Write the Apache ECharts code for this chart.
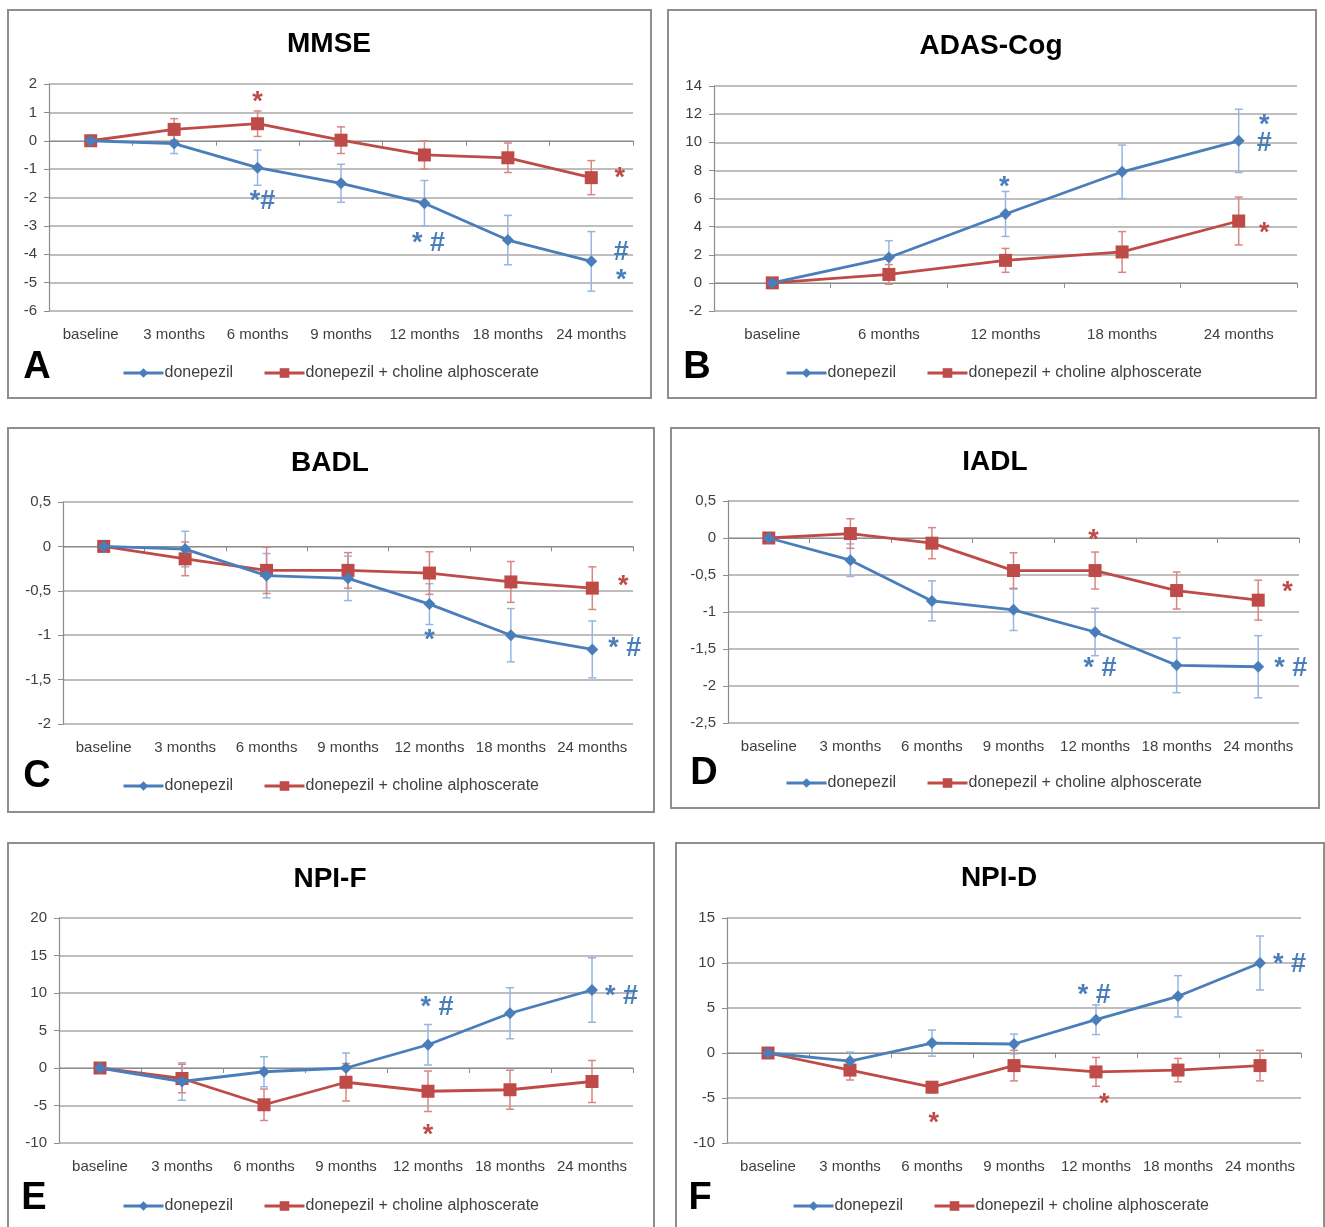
<!DOCTYPE html>
<html>
<head>
<meta charset="utf-8">
<script src="https://cdn.jsdelivr.net/npm/echarts@6/dist/echarts.min.js"></script>
<style>
html,body{margin:0;padding:0;background:#fff;}
#chart{width:1325px;height:1227px;}
</style>
</head>
<body>
<div id="chart"></div>
<script>
// ---------- DATA ----------
const cats7 = ['baseline', '3 months', '6 months', '9 months', '12 months', '18 months', '24 months'];
const cats5 = ['baseline', '6 months', '12 months', '18 months', '24 months'];
const seriesNames = ['donepezil', 'donepezil + choline alphoscerate'];

// A - MMSE
const mmseDon    = [0, -0.1, -0.95, -1.5, -2.2, -3.5, -4.25];
const mmseDonErr = [0, 0.35, 0.62, 0.67, 0.8, 0.87, 1.05];
const mmseCom    = [0, 0.4, 0.6, 0.02, -0.5, -0.6, -1.3];
const mmseComErr = [0, 0.38, 0.45, 0.47, 0.5, 0.52, 0.6];
const mmseNotes  = [[2, 1.55, '*', 'r'], [2.06, -2.05, '*#', 'b'], [4.05, -3.5, '* #', 'b'], [6.34, -1.13, '*', 'r'], [6.36, -3.85, '#', 'b'], [6.36, -4.73, '*', 'b']];

// B - ADAS-Cog
const adasDon    = [0, 1.8, 4.9, 7.9, 10.1];
const adasDonErr = [0, 1.2, 1.6, 1.9, 2.25];
const adasCom    = [0, 0.6, 1.6, 2.2, 4.4];
const adasComErr = [0, 0.7, 0.85, 1.45, 1.7];
const adasNotes  = [[1.99, 7.24, '*', 'b'], [4.22, 11.65, '*', 'b'], [4.22, 10.1, '#', 'b'], [4.22, 3.9, '*', 'r']];

// C - BADL
const badlDon    = [0, -0.03, -0.33, -0.36, -0.65, -1.0, -1.16];
const badlDonErr = [0, 0.2, 0.25, 0.25, 0.23, 0.3, 0.32];
const badlCom    = [0, -0.14, -0.27, -0.27, -0.3, -0.4, -0.47];
const badlComErr = [0, 0.19, 0.26, 0.2, 0.24, 0.23, 0.24];
const badlNotes  = [[6.38, -0.38, '*', 'r'], [4.0, -0.99, '*', 'b'], [6.4, -1.12, '* #', 'b']];

// D - IADL
const iadlDon    = [0, -0.3, -0.85, -0.97, -1.27, -1.72, -1.74];
const iadlDonErr = [0, 0.22, 0.27, 0.28, 0.32, 0.37, 0.42];
const iadlCom    = [0, 0.06, -0.07, -0.44, -0.44, -0.71, -0.84];
const iadlComErr = [0, 0.2, 0.21, 0.24, 0.25, 0.25, 0.27];
const iadlNotes  = [[3.98, 0.04, '*', 'r'], [6.36, -0.66, '*', 'r'], [4.06, -1.73, '* #', 'b'], [6.4, -1.73, '* #', 'b']];

// E - NPI-F
const npifDon    = [0, -1.8, -0.5, 0, 3.1, 7.3, 10.4];
const npifDonErr = [0, 2.5, 2.0, 2.0, 2.7, 3.4, 4.3];
const npifCom    = [0, -1.4, -4.9, -1.9, -3.1, -2.9, -1.8];
const npifComErr = [0, 1.9, 2.1, 2.5, 2.7, 2.6, 2.8];
const npifNotes  = [[1.94, -10.3, '*', 'r'], [4.0, -8.27, '*', 'r'], [4.11, 8.5, '* #', 'b'], [6.36, 9.87, '* #', 'b']];

// F - NPI-D
const npidDon    = [0, -0.9, 1.1, 1.0, 3.7, 6.3, 10.0];
const npidDonErr = [0, 1.0, 1.45, 1.1, 1.65, 2.3, 3.0];
const npidCom    = [0, -1.9, -3.8, -1.4, -2.1, -1.9, -1.4];
const npidComErr = [0, 1.1, 0.6, 1.7, 1.6, 1.3, 1.7];
const npidNotes  = [[2.02, -7.2, '*', 'r'], [4.1, -5.1, '*', 'r'], [3.98, 6.67, '* #', 'b'], [6.36, 10.2, '* #', 'b']];

// y-axis scales [min, max, interval]
const mmseY = [-6, 2, 1];
const adasY = [-2, 14, 2];
const badlY = [-2, 0.5, 0.5];
const iadlY = [-2.5, 0.5, 0.5];
const npifY = [-10, 20, 5];
const npidY = [-10, 15, 5];

// ---------- LAYOUT / STYLE ----------
const FONT = '"Liberation Sans", sans-serif';
const BLUE = '#4A7EBB', RED = '#BE4B48';
const BLUE_ERR = '#95B6E0', RED_ERR = '#D98684';
const GRIDC = '#A8A8A8', AXISC = '#8C8C8C', TXT = '#3F3F3F';

const panels = [
  {title: 'MMSE', letter: 'A', cats: cats7, don: mmseDon, donErr: mmseDonErr, com: mmseCom, comErr: mmseComErr, notes: mmseNotes, y: mmseY, comma: false,
   grid: {left: 49, top: 84, width: 584, height: 227}, box: [8, 10, 643, 388], titlePos: [329, 44], letterPos: [37, 366], legend: [122, 365]},
  {title: 'ADAS-Cog', letter: 'B', cats: cats5, don: adasDon, donErr: adasDonErr, com: adasCom, comErr: adasComErr, notes: adasNotes, y: adasY, comma: false,
   grid: {left: 714, top: 86, width: 583, height: 225}, box: [668, 10, 648, 388], titlePos: [991, 46], letterPos: [697, 366], legend: [785, 365]},
  {title: 'BADL', letter: 'C', cats: cats7, don: badlDon, donErr: badlDonErr, com: badlCom, comErr: badlComErr, notes: badlNotes, y: badlY, comma: true,
   grid: {left: 63, top: 502, width: 570, height: 222}, box: [8, 428, 646, 384], titlePos: [330, 463], letterPos: [37, 775], legend: [122, 778]},
  {title: 'IADL', letter: 'D', cats: cats7, don: iadlDon, donErr: iadlDonErr, com: iadlCom, comErr: iadlComErr, notes: iadlNotes, y: iadlY, comma: true,
   grid: {left: 728, top: 501, width: 571, height: 222}, box: [671, 428, 648, 380], titlePos: [995, 462], letterPos: [704, 772], legend: [785, 775]},
  {title: 'NPI-F', letter: 'E', cats: cats7, don: npifDon, donErr: npifDonErr, com: npifCom, comErr: npifComErr, notes: npifNotes, y: npifY, comma: false,
   grid: {left: 59, top: 918, width: 574, height: 225}, box: [8, 843, 646, 400], titlePos: [330, 879], letterPos: [34, 1197], legend: [122, 1198]},
  {title: 'NPI-D', letter: 'F', cats: cats7, don: npidDon, donErr: npidDonErr, com: npidCom, comErr: npidComErr, notes: npidNotes, y: npidY, comma: false,
   grid: {left: 727, top: 918, width: 574, height: 225}, box: [676, 843, 648, 400], titlePos: [999, 878], letterPos: [700, 1197], legend: [792, 1198]}
];

function errRender(params, api) {
  const x = api.value(0), m = api.value(1), e = api.value(2);
  if (!e) return null;
  const t = api.coord([x, m + e]);
  const b = api.coord([x, m - e]);
  const cw = 4;
  const st = {stroke: api.visual('color'), lineWidth: 1.5, fill: null};
  return {type: 'group', children: [
    {type: 'line', shape: {x1: t[0], y1: t[1], x2: b[0], y2: b[1]}, style: st},
    {type: 'line', shape: {x1: t[0] - cw, y1: t[1], x2: t[0] + cw, y2: t[1]}, style: st},
    {type: 'line', shape: {x1: b[0] - cw, y1: b[1], x2: b[0] + cw, y2: b[1]}, style: st}
  ]};
}

const grids = [], xAxes = [], yAxes = [], series = [], legends = [], graphics = [];

panels.forEach((p, i) => {
  grids.push(Object.assign({containLabel: false}, p.grid));
  // label axis
  xAxes.push({type: 'category', gridIndex: i, data: p.cats, position: 'bottom', boundaryGap: true,
    axisLine: {show: false, onZero: false}, axisTick: {show: false}, splitLine: {show: false},
    axisLabel: {interval: 0, margin: 16, fontSize: 15, color: TXT, fontFamily: FONT}});
  // zero-crossing axis line with ticks
  xAxes.push({type: 'category', gridIndex: i, data: p.cats, position: 'bottom', boundaryGap: true,
    axisLine: {show: true, onZero: true, lineStyle: {color: AXISC, width: 1.2}},
    axisTick: {show: true, length: 5, lineStyle: {color: AXISC}}, axisLabel: {show: false}, splitLine: {show: false}});
  // hidden value axis for annotation placement
  xAxes.push({type: 'value', gridIndex: i, show: false, min: -0.5, max: p.cats.length - 0.5});
  yAxes.push({type: 'value', gridIndex: i, min: p.y[0], max: p.y[1], interval: p.y[2], position: 'left',
    axisLine: {show: true, onZero: false, lineStyle: {color: AXISC, width: 1.2}},
    axisTick: {show: true, length: 5, lineStyle: {color: AXISC}},
    splitLine: {show: true, lineStyle: {color: GRIDC, width: 1.5}},
    axisLabel: {fontSize: 15, color: TXT, fontFamily: FONT, margin: 12,
      formatter: v => p.comma ? String(v).replace('.', ',') : String(v)}});

  const xi = i * 3;
  series.push({type: 'custom', name: 'errDon' + i, xAxisIndex: xi, yAxisIndex: i, renderItem: errRender,
    itemStyle: {color: BLUE_ERR}, z: 1, silent: true,
    data: p.don.map((v, k) => [k, v, p.donErr[k]])});
  series.push({type: 'custom', name: 'errCom' + i, xAxisIndex: xi, yAxisIndex: i, renderItem: errRender,
    itemStyle: {color: RED_ERR}, z: 1, silent: true,
    data: p.com.map((v, k) => [k, v, p.comErr[k]])});
  series.push({type: 'line', name: seriesNames[0], xAxisIndex: xi, yAxisIndex: i, data: p.don,
    symbol: 'diamond', symbolSize: 12, showAllSymbol: true, z: 3,
    lineStyle: {color: BLUE, width: 2.8}, itemStyle: {color: BLUE, borderWidth: 0}});
  series.push({type: 'line', name: seriesNames[1], xAxisIndex: xi, yAxisIndex: i, data: p.com,
    symbol: 'rect', symbolSize: 13, showAllSymbol: true, z: 2,
    lineStyle: {color: RED, width: 2.8}, itemStyle: {color: RED, borderWidth: 0}});
  series.push({type: 'scatter', name: 'notes' + i, xAxisIndex: xi + 2, yAxisIndex: i, symbolSize: 1,
    itemStyle: {opacity: 0}, silent: true, z: 5,
    data: p.notes.map(n => ({value: [n[0], n[1]],
      label: {show: true, position: 'inside', formatter: n[2], color: n[3] === 'r' ? RED : BLUE,
        offset: [0, n[2] === '*' ? 6 : 3],
        fontSize: 27, fontWeight: 'bold', fontFamily: FONT, opacity: 1}}))});

  legends.push({data: seriesNames, left: p.legend[0], top: p.legend[1], orient: 'horizontal', padding: 0,
    itemWidth: 40, itemHeight: 12, itemGap: 30, selectedMode: false,
    lineStyle: {width: 3},
    textStyle: {fontSize: 16, color: TXT, fontFamily: FONT, padding: [0, 0, 0, -4]}});

  graphics.push({type: 'rect', shape: {x: p.box[0], y: p.box[1], width: p.box[2], height: p.box[3]},
    style: {fill: null, stroke: '#8E8E8E', lineWidth: 2}, z: -10, silent: true});
  graphics.push({type: 'text', x: p.titlePos[0], y: p.titlePos[1],
    style: {text: p.title, fontSize: 28, fontWeight: 'bold', fill: '#000', fontFamily: FONT,
      textAlign: 'center', textVerticalAlign: 'middle'}, z: 10});
  graphics.push({type: 'text', x: p.letterPos[0], y: p.letterPos[1] + 2,
    style: {text: p.letter, fontSize: 38, fontWeight: 'bold', fill: '#000', fontFamily: FONT,
      textAlign: 'center', textVerticalAlign: 'middle'}, z: 10});
});

const chart = echarts.init(document.getElementById('chart'), null, {renderer: 'canvas'});
chart.setOption({
  backgroundColor: '#ffffff',
  animation: false,
  grid: grids,
  xAxis: xAxes,
  yAxis: yAxes,
  legend: legends,
  series: series,
  graphic: graphics
});
</script>
</body>
</html>
